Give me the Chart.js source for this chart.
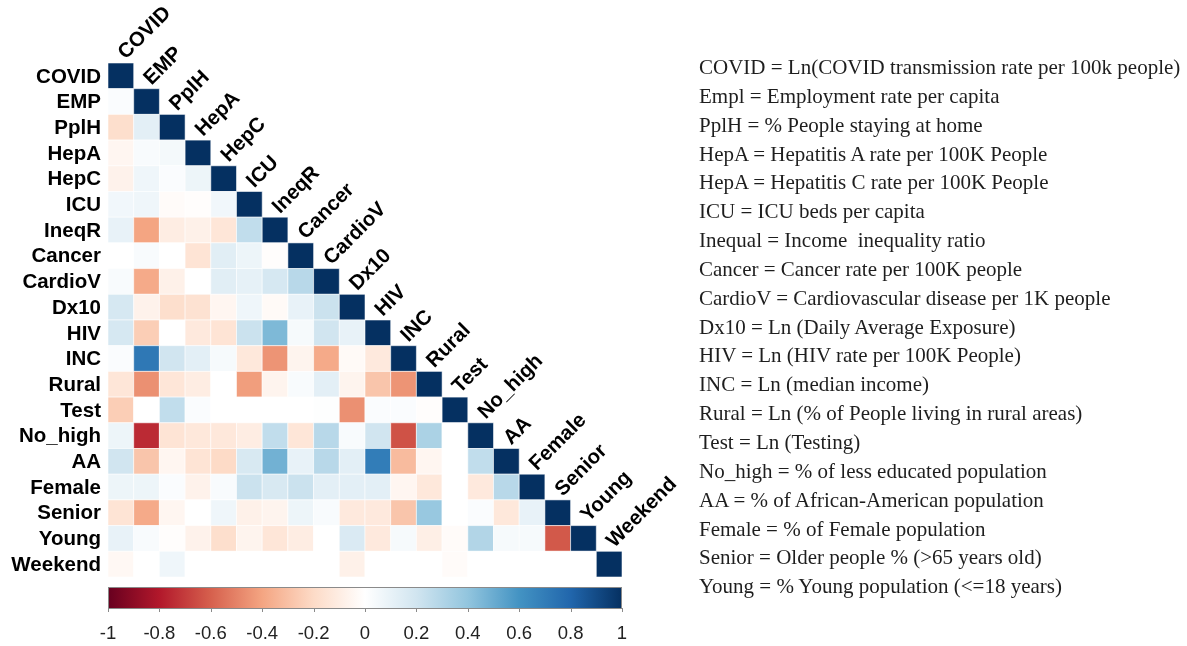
<!DOCTYPE html>
<html>
<head>
<meta charset="utf-8">
<script src="https://cdn.jsdelivr.net/npm/chart.js@4.4.1/dist/chart.umd.min.js"></script>
<style>
html, body { margin: 0; padding: 0; background: #fff; }
#wrap { position: relative; width: 1187px; height: 646px; overflow: hidden; }
#c { position: absolute; left: 0; top: 0; }
#notes { position: absolute; left: 699px; top: 53px; font-family: "Liberation Serif", "Times New Roman", serif;
  font-size: 21px; line-height: 28.85px; color: #1e1e1e; white-space: nowrap; }
</style>
</head>
<body>
<div id="wrap">
  <canvas id="c" width="1187" height="646"></canvas>
  <div id="notes"></div>
</div>
<script>
const vars = ['COVID', 'EMP', 'PplH', 'HepA', 'HepC', 'ICU', 'IneqR', 'Cancer', 'CardioV', 'Dx10',
  'HIV', 'INC', 'Rural', 'Test', 'No_high', 'AA', 'Female', 'Senior', 'Young', 'Weekend'];

// lower triangle, one row per variable (columns before the diagonal)
const rowCOVID = [];
const rowEMP = [0.02];
const rowPplH = [-0.18, 0.12];
const rowHepA = [-0.05, 0.03, 0.05];
const rowHepC = [-0.07, 0.07, 0.02, 0.08];
const rowICU = [0.06, 0.07, -0.02, -0.01, 0.06];
const rowIneqR = [0.1, -0.4, -0.1, -0.08, -0.14, 0.25];
const rowCancer = [0.0, 0.03, 0.0, -0.15, 0.13, 0.08, -0.01];
const rowCardioV = [0.03, -0.38, -0.08, 0.0, 0.13, 0.11, 0.18, 0.28];
const rowDx10 = [0.18, -0.07, -0.18, -0.16, -0.05, 0.07, -0.03, 0.1, 0.22];
const rowHIV = [0.18, -0.25, 0.0, -0.12, -0.15, 0.22, 0.45, 0.04, 0.2, 0.1];
const rowINC = [0.02, 0.72, 0.2, 0.12, 0.04, -0.13, -0.45, -0.06, -0.38, -0.03, -0.12];
const rowRural = [-0.14, -0.46, -0.14, -0.1, 0.0, -0.42, -0.06, 0.03, 0.12, -0.06, -0.28, -0.45];
const rowTest = [-0.25, 0.0, 0.25, 0.02, 0.0, 0.0, 0.0, 0.0, 0.01, -0.46, 0.02, 0.02, -0.01];
const rowNo_high = [0.08, -0.75, -0.15, -0.13, -0.13, -0.1, 0.25, -0.14, 0.28, 0.03, 0.2, -0.64, 0.32, 0.0];
const rowAA = [0.2, -0.28, -0.05, -0.15, -0.2, 0.17, 0.48, 0.1, 0.28, 0.12, 0.7, -0.32, -0.05, 0.0, 0.25];
const rowFemale = [0.08, 0.08, 0.02, -0.07, 0.03, 0.22, 0.17, 0.22, 0.12, 0.12, 0.12, -0.05, -0.13, 0.0, -0.12, 0.28];
const rowSenior = [-0.15, -0.38, -0.05, 0.0, 0.07, -0.08, -0.06, 0.08, 0.03, -0.12, -0.12, -0.28, 0.38, 0.0, 0.02, -0.13, 0.1];
const rowYoung = [0.1, 0.03, -0.01, -0.07, -0.18, -0.06, -0.14, -0.1, 0.0, 0.16, -0.12, 0.04, -0.09, -0.02, 0.3, 0.04, 0.04, -0.62];
const rowWeekend = [-0.04, 0.0, 0.07, 0.0, 0.0, 0.0, 0.0, 0.0, 0.0, -0.08, 0.0, 0.0, 0.0, -0.02, 0.0, 0.0, 0.0, 0.0, 0.0];

const rows = [rowCOVID, rowEMP, rowPplH, rowHepA, rowHepC, rowICU, rowIneqR, rowCancer, rowCardioV, rowDx10,
  rowHIV, rowINC, rowRural, rowTest, rowNo_high, rowAA, rowFemale, rowSenior, rowYoung, rowWeekend];

const barTicks = [-1, -0.8, -0.6, -0.4, -0.2, 0, 0.2, 0.4, 0.6, 0.8, 1];

const notes = [
  'COVID = Ln(COVID transmission rate per 100k people)',
  'Empl = Employment rate per capita',
  'PplH = % People staying at home',
  'HepA = Hepatitis A rate per 100K People',
  'HepA = Hepatitis C rate per 100K People',
  'ICU = ICU beds per capita',
  'Inequal = Income\u00a0 inequality ratio',
  'Cancer = Cancer rate per 100K people',
  'CardioV = Cardiovascular disease per 1K people',
  'Dx10 = Ln (Daily Average Exposure)',
  'HIV = Ln (HIV rate per 100K People)',
  'INC = Ln (median income)',
  'Rural = Ln (% of People living in rural areas)',
  'Test = Ln (Testing)',
  'No_high = % of less educated population',
  'AA = % of African-American population',
  'Female = % of Female population',
  'Senior = Older people % (>65 years old)',
  'Young = % Young population (<=18 years)'
];

const palette = ['#67001F', '#B2182B', '#D6604D', '#F4A582', '#FDDBC7', '#FFFFFF',
  '#D1E5F0', '#92C5DE', '#4393C3', '#2166AC', '#053061'];

const $notes = document.getElementById('notes');
notes.forEach(n => {
  const d = document.createElement('div');
  d.textContent = n;
  $notes.appendChild(d);
});

function hex(h) {
  return [parseInt(h.slice(1, 3), 16), parseInt(h.slice(3, 5), 16), parseInt(h.slice(5, 7), 16)];
}

function colorFor(v) {
  let t = (v + 1) / 2 * (palette.length - 1);
  let i = Math.min(Math.floor(t), palette.length - 2);
  let f = t - i;
  let a = hex(palette[i]), b = hex(palette[i + 1]);
  let c = a.map((x, k) => Math.round(x + (b[k] - x) * f));
  return 'rgb(' + c.join(',') + ')';
}

const cells = [];
rows.forEach((r, i) => {
  r.forEach((v, j) => cells.push({x: j, y: i, v: v}));
  cells.push({x: i, y: i, v: 1});
});

const textPlugin = {
  id: 'corrText',
  afterDraw(chart) {
    const ctx = chart.ctx;
    const xs = chart.scales.x, ys = chart.scales.y;
    const cell = xs.getPixelForValue(1) - xs.getPixelForValue(0);
    ctx.save();
    ctx.fillStyle = '#000';
    ctx.font = 'bold 20.5px "Liberation Sans", Arial, sans-serif';
    // row labels
    ctx.textAlign = 'right';
    ctx.textBaseline = 'middle';
    vars.forEach((v, i) => ctx.fillText(v, xs.left - 7, ys.getPixelForValue(i) + 1));
    // column labels along the diagonal
    ctx.textAlign = 'left';
    ctx.textBaseline = 'alphabetic';
    vars.forEach((v, i) => {
      ctx.save();
      ctx.translate(xs.getPixelForValue(i) + 5, ys.getPixelForValue(i) - cell / 2 - 3);
      ctx.rotate(-Math.PI / 4);
      ctx.fillText(v, 0, 0);
      ctx.restore();
    });

    // colour bar
    const top = 587, h = 21;
    const left = xs.left, right = xs.right;
    const g = ctx.createLinearGradient(left, 0, right, 0);
    palette.forEach((c, k) => g.addColorStop(k / (palette.length - 1), c));
    ctx.fillStyle = g;
    ctx.fillRect(left, top, right - left, h);
    ctx.strokeStyle = '#8a8a8a';
    ctx.lineWidth = 1;
    ctx.strokeRect(left + 0.5, top + 0.5, right - left - 1, h);
    ctx.font = '18.5px "Liberation Sans", Arial, sans-serif';
    ctx.fillStyle = '#222';
    ctx.textAlign = 'center';
    ctx.textBaseline = 'middle';
    barTicks.forEach(t => {
      const px = left + (t + 1) / 2 * (right - left);
      ctx.beginPath();
      ctx.moveTo(Math.round(px) + 0.5, top + h);
      ctx.lineTo(Math.round(px) + 0.5, top + h + 4);
      ctx.stroke();
      ctx.fillText(String(t), px, 634);
    });
    ctx.restore();
  }
};

new Chart(document.getElementById('c'), {
  type: 'scatter',
  data: {
    datasets: [{
      data: cells,
      pointStyle: 'rect',
      backgroundColor: ctx => colorFor(ctx.raw.v),
      borderColor: 'rgba(255,255,255,0.55)',
      borderWidth: 1,
      radius: ctx => {
        const s = ctx.chart.scales.x;
        return Math.abs(s.getPixelForValue(1) - s.getPixelForValue(0)) / Math.SQRT2;
      },
      hoverRadius: ctx => {
        const s = ctx.chart.scales.x;
        return Math.abs(s.getPixelForValue(1) - s.getPixelForValue(0)) / Math.SQRT2;
      }
    }]
  },
  options: {
    responsive: false,
    animation: false,
    devicePixelRatio: 1,
    layout: {padding: {left: 108, right: 565, top: 63, bottom: 69}},
    scales: {
      x: {type: 'linear', min: -0.5, max: 19.5, display: false},
      y: {type: 'linear', min: -0.5, max: 19.5, reverse: true, display: false}
    },
    plugins: {legend: {display: false}, tooltip: {enabled: false}}
  },
  plugins: [textPlugin]
});
</script>
</body>
</html>
